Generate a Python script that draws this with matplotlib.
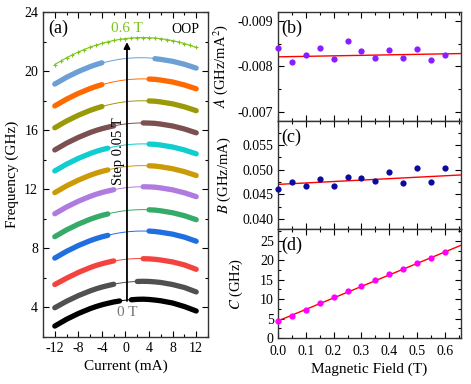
import numpy as np
import matplotlib
matplotlib.use("Agg")
import matplotlib.pyplot as plt
from matplotlib.ticker import MultipleLocator, FormatStrFormatter

plt.rcParams['font.family'] = ['Liberation Serif', 'DejaVu Serif']
plt.rcParams['mathtext.fontset'] = 'stix'
plt.rcParams['font.size'] = 10
plt.rcParams['axes.unicode_minus'] = False

# ---- data ----
# panel (a): current sweep, one curve per field (nan = no measured data)
current = [-12, -10, -8, -6, -5, -4, -3, -2, -1, 0, 1, 2, 3, 4, 5, 6, 8, 10, 12]
nan = np.nan
freq_0T = [2.74, 3.20, 3.59, 3.92, 4.06, 4.18, 4.28, 4.37, 4.44, nan, 4.52, 4.55, 4.56, 4.54, 4.50, 4.45, 4.30, 4.06, 3.76]
freq_005T = [3.98, 4.42, 4.80, 5.12, 5.26, 5.38, 5.48, 5.57, nan, nan, nan, 5.76, 5.77, 5.76, 5.73, 5.69, 5.55, 5.35, 5.05]
freq_010T = [5.55, 5.98, 6.37, 6.70, 6.84, 6.96, 7.06, 7.15, nan, nan, nan, nan, 7.30, 7.29, 7.26, 7.21, 7.08, 6.88, 6.58]
freq_015T = [7.34, 7.80, 8.19, 8.52, 8.66, 8.78, 8.88, nan, nan, nan, nan, nan, nan, 9.17, 9.14, 9.09, 8.96, 8.76, 8.48]
freq_020T = [8.79, 9.25, 9.64, 9.97, 10.11, 10.23, 10.33, nan, nan, nan, nan, nan, nan, 10.61, 10.59, 10.54, 10.41, 10.21, 9.94]
freq_025T = [10.34, 10.80, 11.19, 11.52, 11.66, 11.78, 11.88, 11.97, nan, nan, nan, nan, 12.17, 12.16, 12.14, 12.09, 11.96, 11.76, 11.50]
freq_030T = [11.77, 12.23, 12.62, 12.95, 13.09, 13.21, 13.31, nan, nan, nan, nan, nan, nan, 13.59, 13.57, 13.52, 13.39, 13.19, 12.93]
freq_035T = [13.24, 13.70, 14.09, 14.42, 14.56, 14.68, 14.78, nan, nan, nan, nan, nan, nan, 15.06, 15.04, 14.99, 14.86, 14.66, 14.40]
freq_040T = [14.66, 15.12, 15.51, 15.84, 15.98, 16.10, 16.20, 16.29, nan, nan, nan, nan, 16.49, 16.48, 16.46, 16.41, 16.28, 16.08, 15.82]
freq_045T = [16.16, 16.62, 17.01, 17.34, 17.48, 17.60, nan, nan, nan, nan, nan, nan, nan, 17.98, 17.96, 17.91, 17.78, 17.58, 17.32]
freq_050T = [17.64, 18.10, 18.49, 18.82, 18.96, 19.08, nan, nan, nan, nan, nan, nan, nan, 19.46, 19.44, 19.39, 19.26, 19.06, 18.80]
freq_055T = [19.12, 19.58, 19.97, 20.30, 20.44, 20.56, nan, nan, nan, nan, nan, nan, nan, nan, 20.84, 20.79, 20.66, 20.46, 20.20]

# 0.6 T curve was measured over the full sweep
current_06 = list(range(-12, 13))
freq_060T = [20.44, 20.68, 20.90, 21.10, 21.29, 21.46, 21.62, 21.76, 21.88, 21.98, 22.07, 22.14, 22.20,
             22.24, 22.26, 22.27, 22.26, 22.24, 22.19, 22.13, 22.06, 21.97, 21.86, 21.74, 21.60]

curves = [freq_0T, freq_005T, freq_010T, freq_015T, freq_020T, freq_025T, freq_030T,
          freq_035T, freq_040T, freq_045T, freq_050T, freq_055T]
colors = ['#000000', '#505050', '#F4433F', '#1F6FE0', '#36AA68', '#B07BE0', '#CC9A06',
          '#10CDD0', '#7C5050', '#9A9A08', '#FF6A00', '#6C9FD4']
color_06 = '#7DC41E'

# panels (b)-(d): fit coefficients vs field
field = [0.0, 0.05, 0.10, 0.15, 0.20, 0.25, 0.30, 0.35, 0.40, 0.45, 0.50, 0.55, 0.60]
coef_A = [-0.00841, -0.00809, -0.00825, -0.00841, -0.00816, -0.00856, -0.00833,
          -0.00819, -0.00836, -0.00819, -0.00838, -0.00813, -0.00824]
coef_B = [0.04604, 0.04753, 0.04662, 0.04818, 0.04662, 0.04857, 0.04831,
          0.04773, 0.04955, 0.04721, 0.05026, 0.04753, 0.05040]
coef_C = [4.5, 5.6, 7.2, 9.1, 10.6, 12.1, 13.5, 15.0, 16.4, 17.9, 19.2, 20.7, 22.1]
# linear fits (intercept, slope)
fit_A = (-0.00821, -0.00011)
fit_B = (0.04701, 0.0029)
fit_C = (4.4, 29.6)

fig = plt.figure(figsize=(4.71, 3.84), dpi=100)

def style(ax):
    ax.tick_params(which='both', direction='in', top=True, right=True, labelsize=10)
    ax.tick_params(which='major', length=4, width=0.8)
    ax.tick_params(which='minor', length=2, width=0.8)
    for s in ax.spines.values():
        s.set_linewidth(1.0)
        s.set_color('#333333')

# ---- panel (a) ----
ax = fig.add_axes([0.0913, 0.1224, 0.3503, 0.8464])
I_fit = np.linspace(-12, 12, 200)
for f, c in zip(curves, colors):
    x = np.array(current, float)
    y = np.array(f, float)
    ok = ~np.isnan(y)
    p = np.polyfit(x[ok], y[ok], 2)
    ax.plot(I_fit, np.polyval(p, I_fit), color=c, lw=0.7)
    ax.plot(x, y, color=c, lw=3.8, solid_capstyle='round')
p = np.polyfit(current_06, freq_060T, 2)
ax.plot(I_fit, np.polyval(p, I_fit), color=color_06, lw=0.8)
ax.plot(current_06, freq_060T, '+', color=color_06, ms=3.5, mew=0.8)

ax.annotate('', xy=(0.25, 22.15), xytext=(0.25, 4.25),
            arrowprops=dict(arrowstyle='-|>', color='black', lw=1.3, mutation_scale=9))
ax.text(0.3, 22.85, '0.6 T', color=color_06, ha='center', va='center', fontsize=11)
ax.text(0.3, 3.65, '0 T', color='#777777', ha='center', va='center', fontsize=11)
ax.text(-1.15, 14.6, 'Step 0.05 T', rotation=90, ha='center', va='center', fontsize=10.5)
ax.text(0.95, 0.965, 'OOP', transform=ax.transAxes, ha='right', va='top', fontsize=10)
ax.text(0.03, 0.975, '(a)', transform=ax.transAxes, ha='left', va='top', fontsize=13)

ax.set_xlim(-14, 14)
ax.set_ylim(2, 24)
ax.xaxis.set_major_locator(MultipleLocator(4))
ax.xaxis.set_minor_locator(MultipleLocator(2))
ax.yaxis.set_major_locator(MultipleLocator(4))
ax.yaxis.set_minor_locator(MultipleLocator(2))
ax.set_xlabel('Current (mA)', fontsize=11, labelpad=3)
ax.set_ylabel('Frequency (GHz)', fontsize=11, labelpad=4)
style(ax)

# ---- panels (b), (c), (d) ----
left, width = 0.5902, 0.3885
tops = [12, 120.7, 229.3]
h_px = 108.7
axes = []
for t in tops:
    axes.append(fig.add_axes([left, (384 - t - h_px) / 384, width, h_px / 384]))
axb, axc, axd = axes
xline = np.array([0, 0.66])

axb.plot(xline, fit_A[0] + fit_A[1] * xline, color='red', lw=1.0, zorder=2)
axb.plot(field, coef_A, 'o', color='#8B1EFF', ms=4.5, mec='none', zorder=3, clip_on=False)
axb.set_ylim(-0.0068, -0.0092)
axb.yaxis.set_major_locator(MultipleLocator(0.001))
axb.yaxis.set_minor_locator(MultipleLocator(0.0005))
axb.yaxis.set_major_formatter(FormatStrFormatter('%.3f'))
axb.set_ylabel(r'$A$ (GHz/mA$^2$)', fontsize=10.5)
axb.yaxis.set_label_coords(-0.26, 0.5)
axb.text(0.02, 0.93, '(b)', transform=axb.transAxes, ha='left', va='top', fontsize=13)

axc.plot(xline, fit_B[0] + fit_B[1] * xline, color='red', lw=1.0, zorder=2)
axc.plot(field, coef_B, 'o', color='#0B0B9E', ms=4.5, mec='none', zorder=3, clip_on=False)
axc.set_ylim(0.0379, 0.0599)
axc.yaxis.set_major_locator(MultipleLocator(0.005))
axc.yaxis.set_minor_locator(MultipleLocator(0.0025))
axc.yaxis.set_major_formatter(FormatStrFormatter('%.3f'))
axc.set_ylabel(r'$B$ (GHz/mA)', fontsize=10.5)
axc.yaxis.set_label_coords(-0.245, 0.5)
axc.text(0.02, 0.93, '(c)', transform=axc.transAxes, ha='left', va='top', fontsize=13)

axd.plot(xline, fit_C[0] + fit_C[1] * xline, color='red', lw=1.0, zorder=2)
axd.plot(field, coef_C, 'o', color='#FF00FF', ms=4.5, mec='none', zorder=3, clip_on=False)
axd.set_ylim(0, 28)
axd.yaxis.set_major_locator(MultipleLocator(5))
axd.yaxis.set_minor_locator(MultipleLocator(2.5))
axd.set_ylabel(r'$C$ (GHz)', fontsize=10.5)
axd.yaxis.set_label_coords(-0.18, 0.5)
axd.text(0.02, 0.93, '(d)', transform=axd.transAxes, ha='left', va='top', fontsize=13)
axd.set_xlabel('Magnetic Field (T)', fontsize=11, labelpad=3)

for a in axes:
    a.set_xlim(0, 0.658)
    a.xaxis.set_major_locator(MultipleLocator(0.1))
    a.xaxis.set_minor_locator(MultipleLocator(0.05))
    a.xaxis.set_major_formatter(FormatStrFormatter('%.1f'))
    style(a)
axb.tick_params(labelbottom=False)
axc.tick_params(labelbottom=False)
axd.tick_params(axis='x', pad=5)
axd.tick_params(axis='y', pad=3)

fig.savefig('out.png', dpi=100)
